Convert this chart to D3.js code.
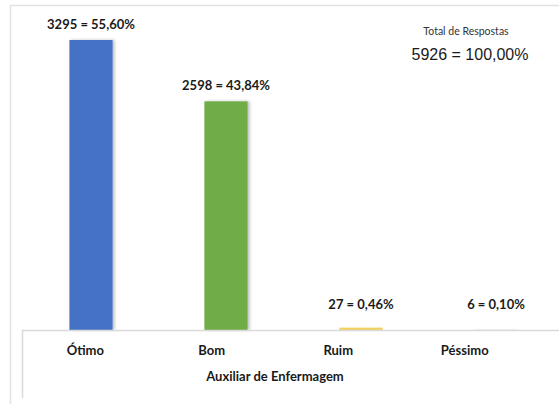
<!DOCTYPE html>
<html>
<head>
<meta charset="utf-8">
<script src="https://cdn.jsdelivr.net/npm/d3@7"></script>
<style>
  body { margin: 0; background: #fff; }
  svg { display: block; }
</style>
</head>
<body>
<svg id="chart"></svg>
<script>
// data
var categories = ["Ótimo", "Bom", "Ruim", "Péssimo"];
var counts = [3295, 2598, 27, 6];
var percents = ["55,60%", "43,84%", "0,46%", "0,10%"];
var barColors = ["#4472c4", "#70ad47", "#f2d15c", "#e4e4e4"];
var axisTitle = "Auxiliar de Enfermagem";
var totalTitle = "Total de Respostas";
var totalLabel = "5926 = 100,00%";

var width = 559, height = 404;
var svg = d3.select("#chart").attr("width", width).attr("height", height);
var font = "Lato, 'Open Sans', sans-serif";

// outer frame (top + left)
svg.append("path")
  .attr("d", "M10.5," + height + "V5.5H" + width)
  .attr("fill", "none")
  .attr("stroke", "#e2e2e2")
  .attr("stroke-width", 1.5);

// scales
var x = d3.scaleBand().domain(categories).range([23.5, 563.5]).paddingInner(0.68).paddingOuter(0.34);
var xLab = d3.scaleBand().domain(categories).range([22, 528]);
var y = d3.scaleLinear().domain([0, 3295]).range([330, 40]);

// drop shadow
var defs = svg.append("defs");
var f = defs.append("filter").attr("id", "sh").attr("x", "-20%").attr("width", "150%");
f.append("feDropShadow").attr("dx", 2).attr("dy", 0).attr("stdDeviation", 1.5)
  .attr("flood-color", "#000").attr("flood-opacity", 0.25);

// bars
svg.append("g")
  .selectAll("rect").data(counts).enter().append("rect")
    .attr("x", (d, i) => x(categories[i]))
    .attr("y", d => y(d))
    .attr("width", x.bandwidth())
    .attr("height", d => y(0) - y(d))
    .attr("fill", (d, i) => barColors[i])
    .attr("filter", (d, i) => i < 2 ? "url(#sh)" : null);

// bar labels
svg.append("g")
  .selectAll("text").data(counts).enter().append("text")
    .attr("x", (d, i) => x(categories[i]) + x.bandwidth() / 2)
    .attr("y", d => Math.min(y(d), 320) - 11)
    .attr("text-anchor", "middle")
    .style("font-family", font)
    .style("font-weight", "bold")
    .style("font-size", "13px")
    .attr("fill", "#1a1a1a")
    .text((d, i) => d + " = " + percents[i]);

// x axis line + left box edge
svg.append("line")
  .attr("x1", 22).attr("x2", width).attr("y1", 330.5).attr("y2", 330.5)
  .attr("stroke", "#d9d9d9").attr("stroke-width", 1.5);
svg.append("line")
  .attr("x1", 22.5).attr("x2", 22.5).attr("y1", 330).attr("y2", 398)
  .attr("stroke", "#d9d9d9").attr("stroke-width", 1.5);

// category labels
svg.append("g")
  .selectAll("text").data(categories).enter().append("text")
    .attr("x", d => xLab(d) + xLab.bandwidth() / 2)
    .attr("y", 355)
    .attr("text-anchor", "middle")
    .style("font-family", font)
    .style("font-weight", "bold")
    .style("font-size", "13px")
    .attr("fill", "#1a1a1a")
    .text(d => d);

// axis title
svg.append("text")
  .attr("x", (xLab.range()[0] + xLab.range()[1]) / 2)
  .attr("y", 381)
  .attr("text-anchor", "middle")
  .style("font-family", font)
  .style("font-weight", "bold")
  .style("font-size", "13px")
  .attr("fill", "#1a1a1a")
  .text(axisTitle);

// total box
svg.append("text")
  .attr("x", 466).attr("y", 35)
  .attr("text-anchor", "middle")
  .style("font-family", font)
  .style("font-size", "10.5px")
  .attr("fill", "#333")
  .text(totalTitle);
svg.append("text")
  .attr("x", 470).attr("y", 60)
  .attr("text-anchor", "middle")
  .style("font-family", "'Liberation Sans', Arial, sans-serif")
  .style("font-size", "16px")
  .attr("fill", "#1a1a1a")
  .text(totalLabel);
</script>
</body>
</html>
